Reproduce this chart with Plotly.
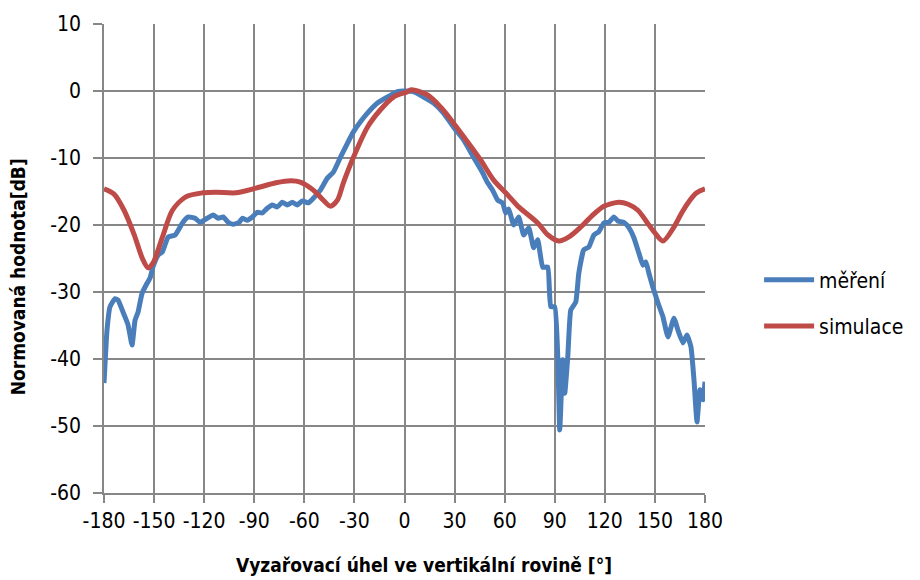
import plotly.graph_objects as go

# --- data ---
mereni_deg = [-180, -178.2, -176.4, -173.4, -171.6, -168.6, -165.6, -163.2, -161.4, -159.6,
              -157.2, -154.2, -152.4, -150.6, -147.6, -145, -141.6, -137.4, -133, -129.6,
              -125.4, -122.4, -118.2, -114.6, -111.6, -108.6, -105.6, -102.6, -99, -97.2,
              -94.2, -91.2, -88.2, -85.2, -82.2, -79.2, -76.2, -73.2, -70.2, -67.2,
              -64.2, -61.2, -57.6, -54.6, -50.4, -46.2, -42.6, -38.4, -34.2, -30.6,
              -26.4, -22.2, -16.2, -10.2, -4.2, -0.6, 5.4, 11.4, 17.4, 23.4,
              29.4, 35.4, 41.4, 46.8, 49.8, 52.8, 55.8, 58.8, 60.6, 62.4,
              65.4, 68.4, 71.4, 74.4, 77.4, 79.8, 82.8, 85.8, 87.6, 90,
              91.8, 93, 94.8, 96, 97.8, 99.6, 102.6, 104.4, 107.4, 110.4,
              113.4, 116.4, 119.4, 122.4, 125.4, 127.8, 131.4, 134.4, 137.4, 140.4,
              142.8, 144.6, 146.4, 148.8, 151.8, 154.8, 157.8, 161.4, 163.8, 166.8,
              169.2, 171.6, 173.4, 175.2, 177, 178.8, 180]
mereni_db = [-43.6, -35.7, -32.2, -31.0, -31.2, -33.0, -34.9, -37.9, -34.2, -33.0,
             -30.2, -28.7, -27.9, -26.2, -24.5, -24.0, -21.8, -21.5, -19.7, -18.8,
             -19.0, -19.6, -19.0, -18.5, -19.0, -18.8, -19.6, -19.9, -19.6, -19.0,
             -19.3, -18.8, -18.1, -18.2, -17.5, -17.0, -17.3, -16.6, -17.0, -16.6,
             -17.0, -16.4, -16.7, -16.0, -14.8, -13.0, -12.1, -9.9, -7.8, -6.1,
             -4.6, -3.3, -1.8, -0.9, -0.1, 0.0, -0.1, -0.9, -1.8, -3.3,
             -5.4, -7.3, -9.9, -12.2, -13.7, -14.8, -16.3, -16.7, -18.2, -17.6,
             -20.0, -18.8, -21.5, -20.4, -23.4, -22.2, -26.3, -26.3, -32.2, -32.2,
             -39.7, -50.6, -40.1, -45.1, -39.7, -32.7, -31.5, -27.2, -23.7, -23.3,
             -21.5, -21.0, -19.7, -19.6, -18.8, -19.4, -19.6, -20.4, -21.9, -24.2,
             -26.0, -25.5, -27.2, -29.3, -31.6, -33.7, -36.7, -33.9, -35.7, -37.6,
             -36.4, -38.2, -43.1, -49.4, -44.6, -46.1, -43.4]

simulace_deg = [-180, -174, -168, -162, -157, -153.5, -150.5, -145, -139, -131,
                -121, -113, -101, -89, -77, -68, -62.4, -54.6, -48.6, -44.4,
                -40.2, -36.6, -30.6, -22.2, -14.4, -6.6, 1.8, 4, 13.8, 21.6,
                29.4, 37.8, 45.6, 53.4, 61.8, 68.4, 79.8, 86, 92.4, 99,
                105.6, 112, 119.4, 128.4, 134, 139.8, 145, 149.4, 154.8, 161.4,
                166, 169.8, 175, 180]
simulace_db = [-14.6, -15.4, -17.8, -21.4, -25.0, -26.4, -25.6, -21.8, -17.8, -15.8,
               -15.2, -15.1, -15.2, -14.5, -13.7, -13.4, -13.6, -14.8, -16.3, -17.2,
               -16.3, -13.7, -9.9, -5.4, -2.8, -0.9, -0.1, 0.2, -0.6, -2.4,
               -4.8, -7.6, -10.3, -13.3, -15.5, -17.3, -19.7, -21.5, -22.4, -21.7,
               -20.3, -18.7, -17.2, -16.6, -16.9, -17.8, -19.5, -21.0, -22.4, -20.3,
               -18.2, -16.7, -15.2, -14.6]

x_ticks = [-180, -150, -120, -90, -60, -30, 0, 30, 60, 90, 120, 150, 180]
y_ticks = [10, 0, -10, -20, -30, -40, -50, -60]

font_fam = "Liberation Sans Narrow, DejaVu Sans Condensed, Arial Narrow, Arial, sans-serif"
grid_col = "#878787"

fig = go.Figure()
fig.add_trace(go.Scatter(x=mereni_deg, y=mereni_db, mode="lines", name="měření", legendgroup="a",
                         line=dict(color="#4A7EBB", width=5, shape="spline", smoothing=0.4)))
fig.add_trace(go.Scatter(x=simulace_deg, y=simulace_db, mode="lines", name="simulace", legendgroup="b",
                         line=dict(color="#BE4B48", width=5, shape="spline", smoothing=0.8)))

fig.update_xaxes(range=[-180, 180], tickvals=x_ticks, ticktext=[str(v) for v in x_ticks],
                 showgrid=True, gridcolor=grid_col, gridwidth=1.5, zeroline=False,
                 showline=True, linecolor=grid_col, linewidth=1.5, automargin=False,
                 ticks="outside", ticklen=8, tickcolor=grid_col, tickwidth=1.5,
                 tickfont=dict(family=font_fam, size=21, color="#000000"))
fig.update_yaxes(range=[-60, 10], tickvals=y_ticks, ticktext=[str(v) for v in y_ticks],
                 showgrid=True, gridcolor=grid_col, gridwidth=1.5, zeroline=False,
                 showline=True, linecolor=grid_col, linewidth=1.5, automargin=False,
                 ticks="outside", ticklen=9, tickcolor=grid_col, tickwidth=1.5,
                 ticklabelstandoff=8,
                 tickfont=dict(family=font_fam, size=21, color="#000000"))

# axis titles as annotations (Excel centres them slightly off the plot centre)
fig.add_annotation(text="<b>Vyzařovací úhel ve vertikální rovině [°]</b>",
                   xref="paper", yref="paper", x=0.532, y=-0.154,
                   xanchor="center", yanchor="middle", showarrow=False,
                   font=dict(family=font_fam, size=19, color="#000000"))
fig.add_annotation(text="<b>Normovaná hodnota[dB]</b>", textangle=-90,
                   xref="paper", yref="paper", x=-0.143, y=0.46,
                   xanchor="center", yanchor="middle", showarrow=False,
                   font=dict(family=font_fam, size=19, color="#000000"))

fig.update_layout(
    width=920, height=580,
    margin=dict(l=96, r=223, t=16, b=95),
    plot_bgcolor="white", paper_bgcolor="white",
    legend=dict(x=1.09, y=0.405, xanchor="left", yanchor="middle",
                font=dict(family=font_fam, size=21, color="#000000"),
                tracegroupgap=16, itemwidth=50),
)

fig.write_html("out.html")
